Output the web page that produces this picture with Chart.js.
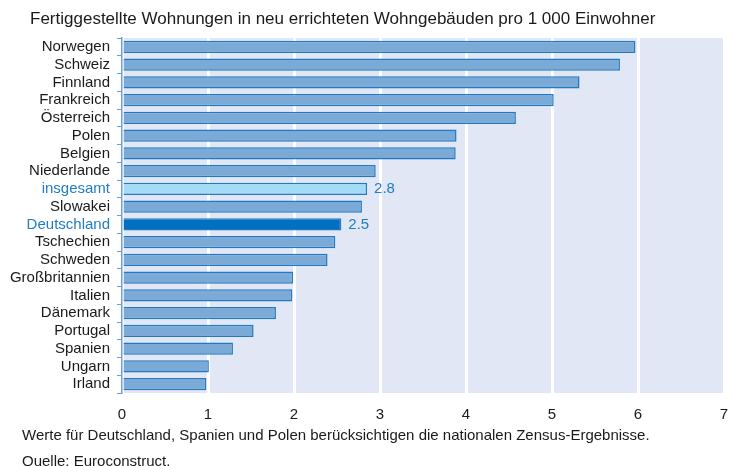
<!DOCTYPE html>
<html>
<head>
<meta charset="utf-8">
<script src="https://cdn.jsdelivr.net/npm/chart.js@4/dist/chart.umd.min.js"></script>
<style>
  body { margin: 0; background: #fff; font-family: "Liberation Sans", Arial, sans-serif; }
  #wrap { position: relative; width: 733px; height: 466px; }
  #chart { position: absolute; left: 0; top: 0; }
  .txt { position: absolute; color: #1a1a1a; white-space: nowrap; }
  #title { left: 30px; top: 10px; font-size: 16px; transform: scaleX(1.063); transform-origin: left top; }
  #note { left: 22px; top: 426px; font-size: 15px; }
  #source { left: 22px; top: 452px; font-size: 15px; }
</style>
</head>
<body>
<div id="wrap">
  <canvas id="chart" width="733" height="466"></canvas>
  <div class="txt" id="title">Fertiggestellte Wohnungen in neu errichteten Wohngebäuden pro 1 000 Einwohner</div>
  <div class="txt" id="note">Werte für Deutschland, Spanien und Polen berücksichtigen die nationalen Zensus-Ergebnisse.</div>
  <div class="txt" id="source">Quelle: Euroconstruct.</div>
</div>
<script>
const countries = ['Norwegen', 'Schweiz', 'Finnland', 'Frankreich', 'Österreich', 'Polen', 'Belgien',
  'Niederlande', 'insgesamt', 'Slowakei', 'Deutschland', 'Tschechien', 'Schweden', 'Großbritannien',
  'Italien', 'Dänemark', 'Portugal', 'Spanien', 'Ungarn', 'Irland'];
const values = [5.97, 5.79, 5.32, 5.02, 4.58, 3.89, 3.88,
  2.95, 2.85, 2.79, 2.55, 2.48, 2.39, 1.99,
  1.98, 1.79, 1.53, 1.29, 1.01, 0.98];
const xTicks = [0, 1, 2, 3, 4, 5, 6, 7];
const labelled = ['insgesamt', 'Deutschland'];

const highlight = '#1f7dc4';
const fontFamily = '"Liberation Sans", Arial, sans-serif';
const fills = countries.map(c => c === 'Deutschland' ? '#0070c0' : c === 'insgesamt' ? '#a3dcf7' : '#7aaad5');
const labelColors = countries.map(c => labelled.includes(c) ? highlight : '#1a1a1a');

// light blue plot background
const plotBg = {
  id: 'plotBg',
  beforeDraw(chart) {
    const { ctx, chartArea: a } = chart;
    ctx.save();
    ctx.fillStyle = '#e1e7f5';
    ctx.fillRect(a.left, a.top, a.right - a.left, a.bottom - a.top);
    ctx.restore();
  }
};

// value labels for insgesamt / Deutschland
const valueLabels = {
  id: 'valueLabels',
  afterDatasetsDraw(chart) {
    const { ctx } = chart;
    const meta = chart.getDatasetMeta(0);
    ctx.save();
    ctx.font = '15px ' + fontFamily;
    ctx.fillStyle = highlight;
    ctx.textBaseline = 'middle';
    countries.forEach((c, i) => {
      if (!labelled.includes(c)) return;
      const bar = meta.data[i];
      const txt = (Math.floor(values[i] * 10 + 1e-9) / 10).toFixed(1);
      ctx.fillText(txt, bar.x + 7, bar.y);
    });
    ctx.restore();
  }
};

new Chart('chart', {
  type: 'bar',
  data: {
    labels: countries,
    datasets: [{
      data: values,
      backgroundColor: fills,
      borderColor: '#2079c2',
      borderWidth: 1.5,
      borderSkipped: 'start',
      barPercentage: 0.68,
      categoryPercentage: 1
    }]
  },
  options: {
    indexAxis: 'y',
    responsive: false,
    animation: false,
    layout: { padding: { left: 10, top: 38, right: 9, bottom: 42 } },
    plugins: { legend: { display: false }, tooltip: { enabled: false } },
    scales: {
      x: {
        min: 0,
        max: 7,
        afterBuildTicks(scale) { scale.ticks = xTicks.map(v => ({ value: v })); },
        // invisible ticks keep the labels away from the plot without the label padding
        grid: { color: '#ffffff', lineWidth: 3, drawTicks: true, tickLength: 13, tickColor: 'rgba(0,0,0,0)' },
        border: { display: false },
        ticks: { color: '#1a1a1a', padding: 0, font: { size: 15, family: fontFamily } }
      },
      y: {
        afterFit(scale) { scale.width = 112; },
        grid: { drawOnChartArea: false, color: '#6f9fd6', tickLength: 5, lineWidth: 1 },
        border: { color: '#6f9fd6', width: 1.5 },
        ticks: {
          color: labelColors,
          padding: 7,
          autoSkip: false,
          font: { size: 15, family: fontFamily }
        }
      }
    }
  },
  plugins: [plotBg, valueLabels]
});
</script>
</body>
</html>
